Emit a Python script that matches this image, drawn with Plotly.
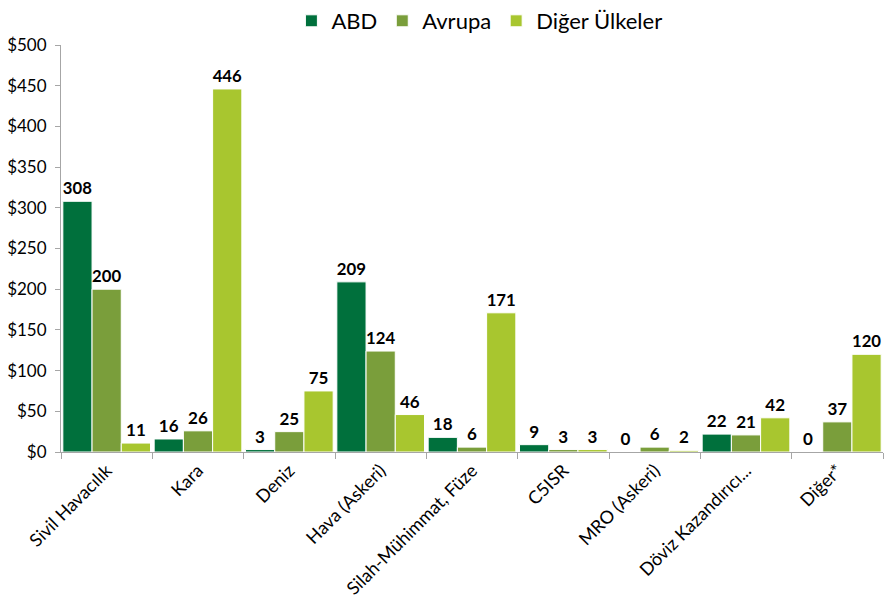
import plotly.graph_objects as go

# kategoriler ve seriler
kategoriler = ['Sivil Havacılık', 'Kara', 'Deniz', 'Hava (Askeri)', 'Silah-Mühimmat, Füze',
               'C5ISR', 'MRO (Askeri)', 'Döviz Kazandırıcı...', 'Diğer*']
abd = [308, 16, 3, 209, 18, 9, 0, 22, 0]
avrupa = [200, 26, 25, 124, 6, 3, 6, 21, 37]
diger_ulkeler = [11, 446, 75, 46, 171, 3, 2, 42, 120]

y_ticks = [0, 50, 100, 150, 200, 250, 300, 350, 400, 450, 500]
y_labels = ['$' + str(v) for v in y_ticks]

FONT = 'Lato, Open Sans, sans-serif'

fig = go.Figure()
for name, vals, color in [('ABD', abd, '#00703C'),
                          ('Avrupa', avrupa, '#7A9E3B'),
                          ('Diğer Ülkeler', diger_ulkeler, '#A8C62F')]:
    fig.add_trace(go.Bar(
        x=kategoriler, y=vals, name=name,
        marker=dict(color=color, line=dict(color='white', width=1)),
        text=[str(v) for v in vals], textposition='outside',
        textfont=dict(family=FONT, size=17, color='black', weight='bold'),
        cliponaxis=False,
    ))

fig.update_layout(
    width=886, height=611,
    barmode='group', bargap=0.04, bargroupgap=0,
    plot_bgcolor='white', paper_bgcolor='white',
    margin=dict(l=61, r=3, t=45, b=159, autoexpand=False),
    font=dict(family=FONT, size=16, color='black'),
    legend=dict(orientation='h', x=0.509, xanchor='center', y=1.0, yanchor='top',
                yref='container', font=dict(size=22), itemwidth=30, traceorder='normal'),
)
fig.update_xaxes(
    showline=True, linecolor='#A6A6A6', linewidth=1,
    ticks='outside', tickson='boundaries', ticklen=6, tickcolor='#A6A6A6',
    tickangle=-45, tickfont=dict(size=18), showgrid=False, automargin=False,
)
fig.update_yaxes(
    range=[0, 500], tickvals=y_ticks, ticktext=y_labels,
    showline=True, linecolor='#A6A6A6', linewidth=1,
    ticks='outside', ticklen=5, tickcolor='#A6A6A6', ticklabelstandoff=5,
    showgrid=False, zeroline=False, tickfont=dict(size=17), automargin=False,
)

# sayfa kenar boşluğunu kaldır, grafik pencereye tam otursun
fig.write_html('out.html', config={'displayModeBar': False},
               post_script="document.body.style.margin='0';")
